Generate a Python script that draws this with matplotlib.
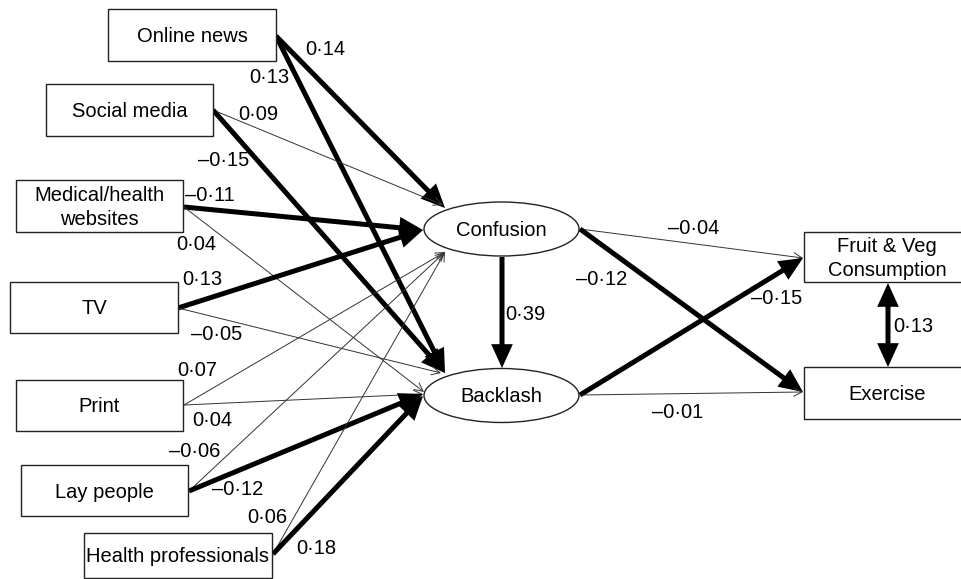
import matplotlib
matplotlib.use("Agg")
import matplotlib.pyplot as plt
from matplotlib.patches import Rectangle, Ellipse

plt.rcParams['font.family'] = ['Liberation Sans', 'DejaVu Sans']

# ---------------- data ----------------
sources = ["Online news", "Social media", "Medical/health\nwebsites", "TV",
           "Print", "Lay people", "Health professionals"]
to_confusion = [0.14, 0.09, -0.11, 0.13, 0.07, -0.06, 0.06]
to_backlash = [0.13, -0.15, 0.04, -0.05, 0.04, -0.12, 0.18]
mediators = ["Confusion", "Backlash"]
confusion_to_backlash = 0.39
outcomes = ["Fruit & Veg\nConsumption", "Exercise"]
confusion_to_outcomes = [-0.04, -0.12]
backlash_to_outcomes = [-0.15, -0.01]
outcome_covariance = 0.13

# ---------------- layout (pixel coordinates) ----------------
src_boxes = [(108, 9, 168, 52), (46, 84, 167, 52), (16, 180, 167, 52),
             (10, 282, 168, 51), (16, 380, 167, 51), (21, 465, 167, 51),
             (84, 533, 188, 45)]
src_anchor = [(276, 36), (213, 110), (184, 207), (178, 308), (184, 405),
              (189, 491), (273, 554)]
conf_target = [(445, 208), (443, 205), (423, 230), (423, 230), (445, 252),
               (445, 252), (445, 252)]
back_target = [(445, 373), (445, 373), (424, 392), (441, 373), (423, 394),
               (423, 394), (423, 396)]
lab_conf = [(325, 48), (258, 113), (210, 194), (202, 278), (197, 369),
            (195, 450), (267, 516)]
lab_back = [(269, 76), (224, 159), (196, 243), (217, 333), (212, 419),
            (238, 488), (316, 547)]

ell_centers = [(501.5, 229), (501.5, 395.5)]
ell_w, ell_h = 155, 54
out_boxes = [(804, 232, 170, 50), (804, 367, 170, 52)]
med_right = [(580, 229), (580, 395)]
out_left = [(803, 258), (803, 392)]
lab_conf_out = [(694, 227), (602, 278)]
lab_back_out = [(777, 297), (678, 411)]

FS = 14.5
DY = 1.5  # small downward nudge so cap-height centres match


def fmt(v):
    s = f"{abs(v):.2f}".replace(".", "\u00b7")
    return ("\u2013" + s) if v < 0 else s


fig = plt.figure(figsize=(9.61, 5.79), dpi=100)
ax = fig.add_axes([0, 0, 1, 1])
ax.set_xlim(0, 961)
ax.set_ylim(579, 0)
ax.axis('off')


def label(x, y, s, **kw):
    ax.text(x, y + DY, s, ha='center', va='center', fontsize=FS, zorder=5,
            linespacing=1.3, **kw)


def arrow(p0, p1, v, style=None):
    thick = abs(v) >= 0.10
    if thick:
        st = style or '-|>'
        ap = dict(arrowstyle=f"{st},head_length=0.55,head_width=0.25", lw=3.6,
                  color='black', shrinkA=0, shrinkB=0, mutation_scale=20,
                  joinstyle='miter', capstyle='butt')
    else:
        ap = dict(arrowstyle="->,head_length=0.6,head_width=0.3", lw=0.7,
                  color='#333333', shrinkA=0, shrinkB=0, mutation_scale=10)
    ax.annotate('', xy=p1, xytext=p0, arrowprops=ap, zorder=2)


# source boxes
for name, (x, y, w, h) in zip(sources, src_boxes):
    ax.add_patch(Rectangle((x, y), w, h, facecolor='white', edgecolor='#222222',
                           lw=1.0, zorder=3))
    label(x + w / 2, y + h / 2, name)

# mediators
for name, (cx, cy) in zip(mediators, ell_centers):
    ax.add_patch(Ellipse((cx, cy), ell_w, ell_h, facecolor='white',
                         edgecolor='#222222', lw=1.0, zorder=3))
    label(cx, cy, name)

# outcome boxes
for name, (x, y, w, h) in zip(outcomes, out_boxes):
    ax.add_patch(Rectangle((x, y), w, h, facecolor='white', edgecolor='#222222',
                           lw=1.0, zorder=3))
    label(x + 83, y + h / 2, name)

# source -> mediator paths
for i in range(len(sources)):
    arrow(src_anchor[i], conf_target[i], to_confusion[i])
    arrow(src_anchor[i], back_target[i], to_backlash[i])
    label(*lab_conf[i], fmt(to_confusion[i]))
    label(*lab_back[i], fmt(to_backlash[i]))

# confusion -> backlash
arrow((502, 257), (502, 368), confusion_to_backlash)
label(525, 313, fmt(confusion_to_backlash))

# mediators -> outcomes
for j in range(len(outcomes)):
    arrow(med_right[0], out_left[j], confusion_to_outcomes[j])
    arrow(med_right[1], out_left[j], backlash_to_outcomes[j])
    label(*lab_conf_out[j], fmt(confusion_to_outcomes[j]))
    label(*lab_back_out[j], fmt(backlash_to_outcomes[j]))

# outcome covariance
arrow((888, 283), (888, 367), outcome_covariance, style='<|-|>')
label(913, 325, fmt(outcome_covariance))

fig.savefig("out.png", dpi=100, facecolor='white')
